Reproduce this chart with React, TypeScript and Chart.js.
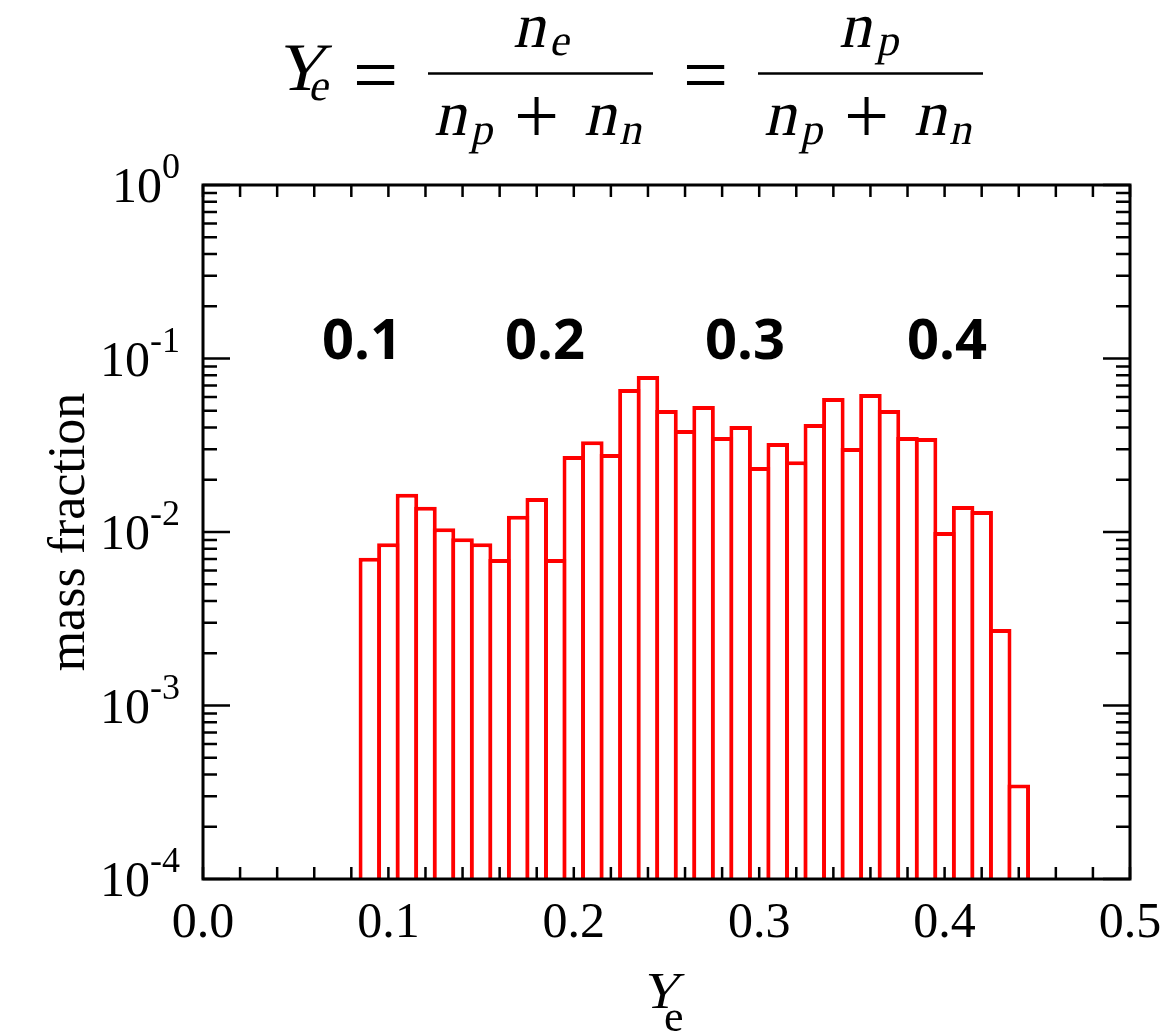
import React, { useEffect, useRef } from "react";
import { Chart, registerables } from "chart.js";

Chart.register(...registerables);

// ---- data ----
const binCenters = [
  0.09, 0.10, 0.11, 0.12, 0.13, 0.14, 0.15, 0.16, 0.17, 0.18, 0.19, 0.20,
  0.21, 0.22, 0.23, 0.24, 0.25, 0.26, 0.27, 0.28, 0.29, 0.30, 0.31, 0.32,
  0.33, 0.34, 0.35, 0.36, 0.37, 0.38, 0.39, 0.40, 0.41, 0.42, 0.43, 0.44,
];
const massFraction = [
  0.0071, 0.0086, 0.0166, 0.0140, 0.0105, 0.0092, 0.0086, 0.0070, 0.0124, 0.0157, 0.0070, 0.0274,
  0.0334, 0.0282, 0.0667, 0.0793, 0.0505, 0.0387, 0.0532, 0.0353, 0.0408, 0.0237, 0.0326, 0.0256,
  0.0419, 0.0592, 0.0305, 0.0624, 0.0505, 0.0353, 0.0348, 0.0100, 0.0141, 0.0132, 0.00276, 0.00035,
];
const xMin = 0;
const xMax = 0.5;
const yMin = 1e-4;
const yMax = 1;
const xMajorTicks = [0, 0.1, 0.2, 0.3, 0.4, 0.5];
const xTickLabels = ["0.0", "0.1", "0.2", "0.3", "0.4", "0.5"];
const xMinorStep = 0.02;
const yExponents = [0, -1, -2, -3, -4];
const yExponentLabels = ["0", "-1", "-2", "-3", "-4"];
const annotationLabels = ["0.1", "0.2", "0.3", "0.4"];
const annotationX = [0.0858, 0.1845, 0.2923, 0.4013];
const annotationY = 0.1;
const yAxisTitle = "mass fraction";

const SERIF = '"Liberation Serif", "Times New Roman", serif';

function txt(
  ctx: CanvasRenderingContext2D,
  s: string,
  x: number,
  y: number,
  font: string,
  align: CanvasTextAlign = "left"
) {
  ctx.font = font;
  ctx.textAlign = align;
  ctx.textBaseline = "alphabetic";
  ctx.fillText(s, x, y);
}

// slanted (italic) serif text, drawn from the upright face with a shear
function itxt(ctx: CanvasRenderingContext2D, s: string, x: number, y: number, size: number) {
  ctx.save();
  ctx.translate(x, y);
  ctx.transform(1, 0, -0.22, 1, 0, 0);
  ctx.font = `${size}px ${SERIF}`;
  ctx.textAlign = "left";
  ctx.textBaseline = "alphabetic";
  ctx.fillText(s, 0, 0);
  ctx.restore();
}

function centeredGlyph(ctx: CanvasRenderingContext2D, s: string, cx: number, cy: number, font: string) {
  ctx.font = font;
  ctx.textAlign = "center";
  ctx.textBaseline = "alphabetic";
  const m = ctx.measureText(s);
  const asc = m.actualBoundingBoxAscent;
  const desc = m.actualBoundingBoxDescent;
  ctx.fillText(s, cx, cy + (asc - desc) / 2);
}

const decorPlugin = {
  id: "decor",
  afterDraw(chart: any) {
    const ctx: CanvasRenderingContext2D = chart.ctx;
    const xs = chart.scales.x;
    const ys = chart.scales.y;
    const { left, right, top, bottom } = chart.chartArea;
    ctx.save();
    ctx.fillStyle = "#000";
    ctx.strokeStyle = "#000";

    // ticks
    ctx.lineWidth = 2.5;
    ctx.lineCap = "butt";
    const nX = Math.round((xMax - xMin) / xMinorStep);
    for (let i = 0; i <= nX; i++) {
      const v = xMin + i * xMinorStep;
      const px = xs.getPixelForValue(v);
      ctx.beginPath();
      ctx.moveTo(px, bottom);
      ctx.lineTo(px, bottom - 12);
      ctx.moveTo(px, top);
      ctx.lineTo(px, top + 12);
      ctx.stroke();
    }
    for (const e of yExponents) {
      for (let m = 1; m <= 9; m++) {
        const v = m * Math.pow(10, e);
        if (v > yMax * 1.0001 || v < yMin * 0.9999) continue;
        const py = ys.getPixelForValue(v);
        const len = m === 1 ? 27 : 14;
        ctx.beginPath();
        ctx.moveTo(left, py);
        ctx.lineTo(left + len, py);
        ctx.moveTo(right, py);
        ctx.lineTo(right - len, py);
        ctx.stroke();
      }
    }

    // frame
    ctx.lineWidth = 3;
    ctx.strokeRect(left, top, right - left, bottom - top);

    // x tick labels
    xMajorTicks.forEach((v, i) => {
      txt(ctx, xTickLabels[i], xs.getPixelForValue(v), 937, `50px ${SERIF}`, "center");
    });

    // y tick labels 10^e
    yExponents.forEach((e, i) => {
      const py = ys.getPixelForValue(Math.pow(10, e));
      ctx.font = `50px ${SERIF}`;
      const w10 = ctx.measureText("10").width;
      ctx.font = `36px ${SERIF}`;
      const wsup = ctx.measureText(yExponentLabels[i]).width;
      const x0 = 180 - (w10 + wsup);
      txt(ctx, "10", x0, py + 17, `50px ${SERIF}`);
      txt(ctx, yExponentLabels[i], x0 + w10, py - 7, `36px ${SERIF}`);
    });

    // y axis title
    ctx.save();
    ctx.translate(84, (top + bottom) / 2);
    ctx.rotate(-Math.PI / 2);
    txt(ctx, yAxisTitle, 0, 0, `52px ${SERIF}`, "center");
    ctx.restore();

    // x axis title Y_e
    itxt(ctx, "Y", 641, 1008, 52);
    txt(ctx, "e", 664, 1031, `44px ${SERIF}`);

    // annotations
    annotationLabels.forEach((s, i) => {
      txt(
        ctx,
        s,
        xs.getPixelForValue(annotationX[i]),
        ys.getPixelForValue(annotationY),
        `bold 56px "Open Sans", sans-serif`,
        "center"
      );
    });

    // title formula
    const op = `80px ${SERIF}`;
    itxt(ctx, "Y", 275, 90, 68);
    itxt(ctx, "e", 308, 100, 44);
    centeredGlyph(ctx, "=", 375.5, 74.5, op);
    // fraction 1
    ctx.lineWidth = 2.5;
    ctx.beginPath();
    ctx.moveTo(428, 73.5);
    ctx.lineTo(653, 73.5);
    ctx.stroke();
    itxt(ctx, "n", 513, 47, 64);
    itxt(ctx, "e", 549, 55, 44);
    const denom = (dx: number) => {
      itxt(ctx, "n", 434 + dx, 135, 64);
      itxt(ctx, "p", 470 + dx, 144, 44);
      centeredGlyph(ctx, "+", 536.5 + dx, 115.5, op);
      itxt(ctx, "n", 584 + dx, 135, 64);
      itxt(ctx, "n", 619 + dx, 144, 44);
    };
    denom(0);
    centeredGlyph(ctx, "=", 705.5, 74.5, op);
    // fraction 2
    ctx.beginPath();
    ctx.moveTo(758, 73.5);
    ctx.lineTo(983, 73.5);
    ctx.stroke();
    itxt(ctx, "n", 839, 47, 64);
    itxt(ctx, "p", 876, 55, 44);
    denom(330);

    ctx.restore();
  },
};

export default function App() {
  const ref = useRef<HTMLCanvasElement>(null);
  useEffect(() => {
    if (!ref.current) return;
    const chart = new Chart(ref.current, {
      type: "bar",
      data: {
        datasets: [
          {
            label: "mass fraction",
            data: binCenters.map((c, i) => ({ x: c, y: [yMin, massFraction[i]] })) as any,
            backgroundColor: "#ffffff",
            borderColor: "#ff0000",
            borderWidth: 4,
            borderSkipped: "start",
            inflateAmount: 0,
            barPercentage: 1.216,
            categoryPercentage: 1,
          } as any,
        ],
      },
      options: {
        responsive: false,
        devicePixelRatio: 1,
        animation: false,
        layout: { padding: { left: 203, top: 185, right: 46, bottom: 154 } },
        plugins: { legend: { display: false }, tooltip: { enabled: false } },
        scales: {
          x: { type: "linear", min: xMin, max: xMax, offset: false, grid: { offset: false }, display: false },
          y: { type: "logarithmic", min: yMin, max: yMax, display: false },
        },
      },
      plugins: [decorPlugin],
    });
    return () => chart.destroy();
  }, []);
  return (
    <div
      style={{
        position: "fixed",
        left: 0,
        top: 0,
        width: 1176,
        height: 1033,
        background: "#ffffff",
        overflow: "hidden",
      }}
    >
      <canvas ref={ref} width={1176} height={1033} style={{ display: "block", width: 1176, height: 1033 }} />
    </div>
  );
}
